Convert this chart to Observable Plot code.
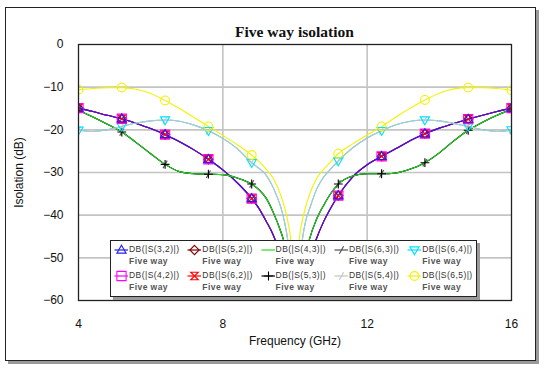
<!DOCTYPE html>
<html><head><meta charset="utf-8">
<script src="https://cdn.jsdelivr.net/npm/d3@7"></script>
<script src="https://cdn.jsdelivr.net/npm/@observablehq/plot@0.6"></script>
<style>
html,body{margin:0;padding:0;background:#fff;}
#wrap{position:relative;width:545px;height:368px;overflow:hidden;font-family:Arial,"Liberation Sans",sans-serif;background:#fff;}
#frame{position:absolute;left:5px;top:7px;width:531px;height:354px;border:1.5px solid #222;box-shadow:3px 3px 0 #9a9a9a;box-sizing:border-box;background:#fff;}
#title{position:absolute;left:78px;width:433px;top:23px;text-align:center;font-family:"Liberation Serif","Times New Roman",serif;font-weight:bold;font-size:15.5px;line-height:18px;color:#111;}
#chart{position:absolute;left:0;top:0;}
#chart svg{overflow:visible;}
#legend{position:absolute;left:110px;top:240px;width:367px;height:57px;border:1px solid #222;box-shadow:3px 3px 0 #9a9a9a;background:#fff;box-sizing:border-box;}
.ent{position:absolute;width:73px;height:26px;}
.ent svg{position:absolute;left:1px;top:0.5px;}
.ent .n{position:absolute;left:16px;top:1px;font-size:8.5px;letter-spacing:0.45px;color:#333;white-space:nowrap;line-height:11px;}
.ent .s{position:absolute;left:16px;top:13px;font-size:8.5px;letter-spacing:0.45px;font-weight:bold;color:#555;white-space:nowrap;line-height:11px;}
</style></head>
<body><div id="wrap"><div id="frame"></div><div id="title"></div><div id="chart"></div><div id="legend"></div></div>
<script>
// ---- data ----
const chartTitle = "Five way isolation";
const xLabel = "Frequency (GHz)";
const yLabel = "Isolation (dB)";
const xTicks = [4, 8, 12, 16];
const yTicks = [0, -10, -20, -30, -40, -50, -60];
const freq = [4.0,4.4,4.8,5.2,5.6,6.0,6.4,6.8,7.2,7.6,8.0,8.4,8.8,9.0,9.2,9.4,9.6,9.7,9.8,9.9,10.0,10.1,10.2,10.3,10.4,10.6,10.8,11.0,11.2,11.6,12.0,12.4,12.8,13.2,13.6,14.0,14.4,14.8,15.2,15.6,16.0];
const markerFreq = [4.0, 5.2, 6.4, 7.6, 8.8, 11.2, 12.4, 13.6, 14.8, 16.0];
// S(3,2), S(5,2), S(4,2), S(6,2) coincide
const traceA = [-14.9,-15.7,-16.6,-17.4,-18.5,-19.7,-21.1,-22.8,-24.7,-26.9,-29.4,-32.4,-36.1,-38.4,-41.4,-44.7,-49.4,-52.4,-56.9,-63,-80,-66,-58.9,-53.9,-50.4,-45.4,-41.4,-38.2,-35.4,-31.0,-28.2,-26.2,-24.4,-22.5,-20.9,-19.6,-18.5,-17.5,-16.6,-15.7,-14.9];
// S(4,3), S(6,3), S(5,3) coincide
const traceB = [-15.4,-17.0,-18.7,-20.5,-23.0,-25.6,-28.1,-29.8,-30.3,-30.4,-30.5,-31.3,-32.7,-34.0,-36.0,-39.4,-43.7,-46.4,-50.9,-58,-80,-60,-53.9,-49.4,-45.7,-40.9,-37.6,-34.8,-32.7,-30.8,-30.3,-30.3,-30.1,-29.2,-27.7,-25.4,-22.6,-20.1,-18.2,-16.6,-15.2];
// S(6,4), S(5,4) coincide
const traceC = [-20.1,-20.4,-20.0,-19.2,-18.4,-17.9,-17.7,-18.0,-18.9,-20.2,-22.0,-24.4,-27.7,-29.0,-30.6,-33.6,-38.0,-41.2,-45.9,-54,-80,-54,-45.9,-41.2,-38.6,-33.9,-31.0,-29.1,-27.3,-24.2,-21.9,-20.2,-18.8,-18.0,-17.7,-17.9,-18.5,-19.2,-20.0,-20.4,-20.0];
// S(6,5)
const traceD = [-10.6,-10.3,-10.1,-10.1,-10.5,-11.5,-13.1,-15.0,-17.1,-19.2,-21.3,-23.5,-25.9,-27.4,-29.2,-31.4,-35.2,-37.9,-41.4,-47.4,-80,-47.4,-41.4,-37.9,-35.2,-31.4,-29.2,-27.4,-25.6,-23.3,-21.2,-19.2,-17.0,-14.9,-13.0,-11.4,-10.4,-10.1,-10.1,-10.3,-10.7];
const seriesNames = ["DB(|S(3,2)|)","DB(|S(5,2)|)","DB(|S(4,3)|)","DB(|S(6,3)|)","DB(|S(6,4)|)","DB(|S(4,2)|)","DB(|S(6,2)|)","DB(|S(5,3)|)","DB(|S(5,4)|)","DB(|S(6,5)|)"];
const seriesSub = "Five way";
const seriesTraces = [traceA, traceA, traceB, traceB, traceC, traceA, traceA, traceB, traceC, traceD];

// ---- styles ----
const R = s => Math.sqrt(s / Math.PI);
const sym = {
  triUp: {draw(c, s){const r=R(s)*1.15; c.moveTo(0,-r); c.lineTo(r*0.95,r*0.65); c.lineTo(-r*0.95,r*0.65); c.closePath();}},
  triDown: {draw(c, s){const r=R(s)*1.15; c.moveTo(0,r); c.lineTo(r*0.95,-r*0.65); c.lineTo(-r*0.95,-r*0.65); c.closePath();}},
  diamond: {draw(c, s){const r=R(s)*1.1; c.moveTo(0,-r); c.lineTo(r,0); c.lineTo(0,r); c.lineTo(-r,0); c.closePath();}},
  square: {draw(c, s){const r=R(s); c.rect(-r,-r,2*r,2*r);}},
  hourglass: {draw(c, s){const r=R(s)*0.9; c.moveTo(-r,-r); c.lineTo(r,-r); c.lineTo(-r,r); c.lineTo(r,r); c.closePath();}},
  plus: {draw(c, s){const r=R(s)*1.05; c.moveTo(-r,0); c.lineTo(r,0); c.moveTo(0,-r); c.lineTo(0,r);}},
  slash: {draw(c, s){const r=R(s); c.moveTo(-r*0.5,r*0.9); c.lineTo(r*0.5,-r*0.9);}},
  circle: {draw(c, s){const r=R(s)*1.05; c.moveTo(r,0); c.arc(0,0,r,0,2*Math.PI);}},
  none: null
};
const styles = [
  {color:"#2020f0", symbol:"triUp"},
  {color:"#800000", symbol:"diamond"},
  {color:"#22dd22", symbol:"none"},
  {color:"#505050", symbol:"slash"},
  {color:"#00e0ff", symbol:"triDown"},
  {color:"#ff00ff", symbol:"square"},
  {color:"#ff0000", symbol:"hourglass"},
  {color:"#000000", symbol:"plus"},
  {color:"#c4c4c4", symbol:"slash"},
  {color:"#f2f200", symbol:"circle"}
];
const lineOrder = [1,5,6,0,3,7,2,4,8,9];
const markerOrder = [3,7,8,4,1,6,5,0,9];

// ---- build ----
document.getElementById("title").textContent = chartTitle;
const rowsFor = i => freq.map((f, k) => ({f, v: seriesTraces[i][k]}));
const marks = [
  Plot.gridX(xTicks.slice(1, -1), {stroke:"#c4c4c4", strokeWidth:1.6, strokeOpacity:1}),
  Plot.gridY(yTicks.slice(1, -1), {stroke:"#c4c4c4", strokeWidth:1.6, strokeOpacity:1}),
];
for (const i of lineOrder) {
  marks.push(Plot.line(rowsFor(i), {x:"f", y:"v", stroke: styles[i].color, strokeWidth:1.1, curve:"monotone-x", clip:true}));
}
for (const i of markerOrder) {
  const s = sym[styles[i].symbol];
  if (!s) continue;
  const rows = rowsFor(i).filter(d => markerFreq.some(m => Math.abs(m - d.f) < 1e-6));
  marks.push(Plot.dot(rows, {x:"f", y:"v", symbol: s, r: styles[i].symbol === "square" ? 4.6 : 4.2, stroke: styles[i].color, strokeWidth:1.1, fill:"none", clip:true}));
}
marks.push(Plot.frame({stroke:"#222", strokeWidth:1.3}));

const chart = Plot.plot({
  width: 545, height: 368,
  marginLeft: 78, marginRight: 34, marginTop: 44, marginBottom: 68,
  style: {fontFamily: "Arial, 'Liberation Sans', sans-serif", fontSize: "12px", background: "transparent", color: "#111"},
  x: {domain: [4, 16], ticks: xTicks, tickSize: 0, tickPadding: 19, label: xLabel, labelAnchor: "center", labelOffset: 44, labelArrow: "none"},
  y: {domain: [-60, 0], ticks: yTicks, tickSize: 0, tickPadding: 15, label: yLabel, labelAnchor: "center", labelOffset: 64, labelArrow: "none"},
  marks
});
document.getElementById("chart").appendChild(chart);

// legend
const leg = document.getElementById("legend");
const colX = [2, 75.3, 148.6, 221.9, 295.2];
const rowY = [2, 28];
const legendSlot = [0,1,2,3,4,5,6,7,8,9];
seriesNames.forEach((name, i) => {
  const slot = legendSlot[i];
  const e = document.createElement("div");
  e.className = "ent";
  e.style.left = colX[slot % 5] + "px";
  e.style.top = rowY[Math.floor(slot / 5)] + "px";
  const svg = d3.create("svg").attr("width", 15).attr("height", 12);
  svg.append("line").attr("x1", 0.5).attr("x2", 14).attr("y1", 6).attr("y2", 6).attr("stroke", styles[i].color).attr("stroke-width", 1.2);
  const s = sym[styles[i].symbol];
  if (s) {
    const size = Math.PI * Math.pow(styles[i].symbol === "square" ? 4.6 : 4.2, 2);
    svg.append("path").attr("d", d3.symbol(s, size)()).attr("transform", "translate(7.5,6)")
      .attr("fill", "none").attr("stroke", styles[i].color).attr("stroke-width", 1.1);
  }
  e.appendChild(svg.node());
  const n = document.createElement("div"); n.className = "n"; n.textContent = name; e.appendChild(n);
  const t = document.createElement("div"); t.className = "s"; t.textContent = seriesSub; e.appendChild(t);
  leg.appendChild(e);
});
</script></body></html>
